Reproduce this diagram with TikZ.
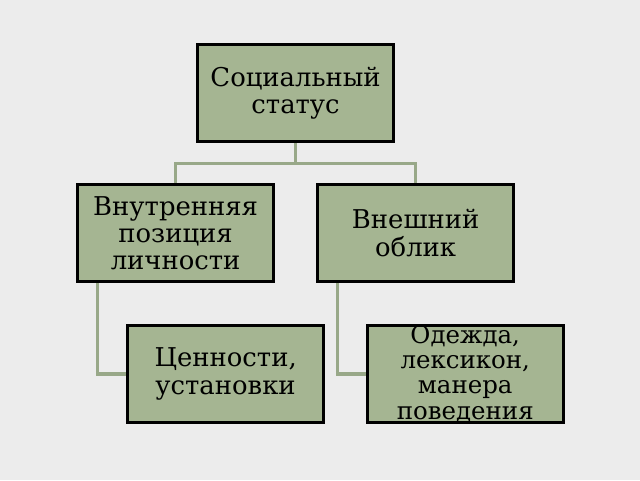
\documentclass[tikz,border=0pt]{standalone}
\usepackage{fontspec}
\setmainfont{DejaVu Serif}
\usetikzlibrary{backgrounds}
\definecolor{boxfill}{HTML}{A5B592}
\definecolor{linegreen}{HTML}{98A888}
\definecolor{bggray}{HTML}{ECECEC}
\begin{document}
\begin{tikzpicture}[
    box/.style={draw=black, line width=2.1pt, fill=boxfill, minimum width=4.9cm,
        minimum height=2.43cm, inner sep=0pt, align=center,
        font=\fontsize{18.4}{19.3}\selectfont},
    conn/.style={draw=linegreen, line width=2.2pt}
  ]

    % 背景
    \useasboundingbox (0,0) rectangle (16,12);

    % 第一层
    \node[box] (st) at (7.39,9.675) {Социальный\\статус};

    % 第二层
    \node[box] (vp) at (4.39,6.175) {Внутренняя\\позиция\\личности};
    \node[box] (vo) at (10.39,6.175) {Внешний\\облик};

    % 第三层
    \node[box] (cu) at (5.64,2.65) {Ценности,\\установки};
    \node[box, font=\fontsize{17.4}{17.9}\selectfont] (od) at (11.63,2.65) {Одежда,\\лексикон,\\манера\\поведения};

    % 连线
    \begin{scope}[on background layer]
        \fill[bggray] (0,0) rectangle (16,12);
        \draw[conn] (st.south) -- ++(0,-0.5) -| (vp.north); % 左
        \draw[conn] (st.south) -- ++(0,-0.5) -| (vo.north); % 右
        \draw[conn] ([xshift=0.525cm]vp.south west) |- (cu.west);
        \draw[conn] ([xshift=0.525cm]vo.south west) |- (od.west);
    \end{scope}

\end{tikzpicture}
\end{document}
